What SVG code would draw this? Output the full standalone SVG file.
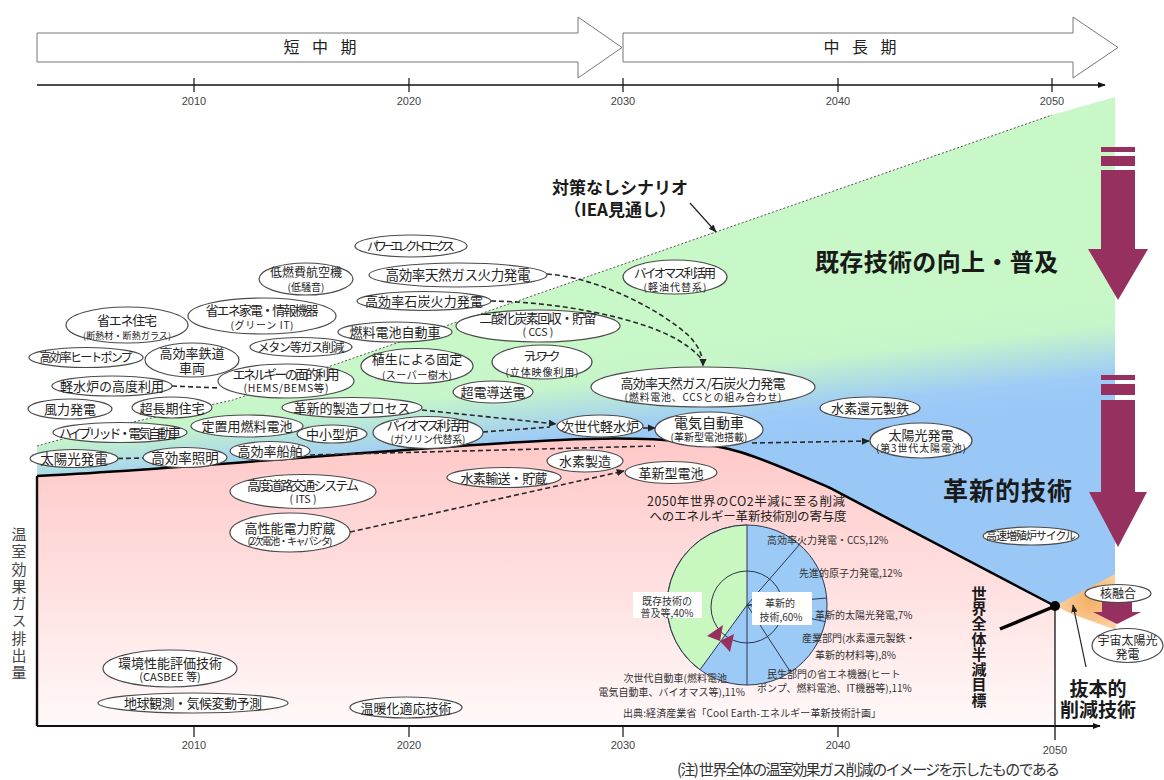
<svg xmlns="http://www.w3.org/2000/svg" width="1164" height="780" viewBox="0 0 1164 780">
<defs>
<style>
.ov{fill:#fff;stroke:#4a4a4a;stroke-width:1.2}
.t{font-family:'Noto Sans CJK JP','Noto Sans',sans-serif;fill:#222;text-anchor:middle}
.m{font-size:13px}
.s{font-size:10px}
.con{fill:none;stroke:#2a2a2a;stroke-width:1.6;stroke-dasharray:5 3}
.yr{font-family:'Liberation Sans',Arial,sans-serif;font-size:11px;fill:#444;text-anchor:middle}
.pl{font-family:'Noto Sans CJK JP','Noto Sans',sans-serif;font-size:10px;fill:#333}
.big{font-family:'Noto Sans CJK JP','Noto Sans',sans-serif;font-weight:bold;fill:#1a1a1a}
.pu{fill:#96305f}
.ar{fill:#fff;stroke:#777;stroke-width:1}
.pln{stroke:#2d3550;stroke-width:1;fill:none}
</style>
<linearGradient id="gb" gradientUnits="userSpaceOnUse" x1="760" y1="330" x2="772" y2="440">
<stop offset="0" stop-color="#c8f7c8"/><stop offset="0.3" stop-color="#c6f5ca"/><stop offset="0.75" stop-color="#9ecbf6"/><stop offset="1" stop-color="#99c8f7"/>
</linearGradient>
<linearGradient id="pk" gradientUnits="userSpaceOnUse" x1="0" y1="440" x2="0" y2="730">
<stop offset="0" stop-color="#ffc8c8"/><stop offset="0.55" stop-color="#ffe2e2"/><stop offset="1" stop-color="#fffafa"/>
</linearGradient>
<radialGradient id="or" gradientUnits="userSpaceOnUse" cx="1090" cy="600" r="40">
<stop offset="0" stop-color="#f5b064"/><stop offset="1" stop-color="#fbd6ae"/>
</radialGradient>
<marker id="ah" viewBox="0 0 10 10" refX="9" refY="5" markerWidth="5" markerHeight="5" orient="auto"><path d="M0,0.5 L10,5 L0,9.5 Z" fill="#222"/></marker>
<marker id="ahs" viewBox="0 0 10 10" refX="9" refY="5" markerWidth="8" markerHeight="8" markerUnits="userSpaceOnUse" orient="auto"><path d="M0,1 L10,5 L0,9 Z" fill="#222"/></marker>
<marker id="ax" viewBox="0 0 10 10" refX="9" refY="5" markerWidth="8" markerHeight="8" markerUnits="userSpaceOnUse" orient="auto"><path d="M0,1 L10,5 L0,9 Z" fill="#111"/></marker>
</defs>
<rect width="1164" height="780" fill="#fff"/>

<g id="regions">
<path d="M37,446 C100,428 180,412 233,400 L1052,115 L1115,97 L1115,577 L1055,606 L830,488 C800,475 770,461 740,452 C700,440 640,436 560,440 C420,446 200,468 37,476 Z" fill="url(#gb)"/>
<path d="M37,476 C200,468 420,446 560,440 C640,436 700,440 740,452 C770,461 800,475 830,488 L1055,606 L1055,726 L37,726 Z" fill="url(#pk)"/>
<path d="M1055,606 L1115,574 L1116,630 L1072,614 Z" fill="url(#or)"/>
<path d="M37,446 C100,428 180,412 233,400 L1052,115" fill="none" stroke="#555" stroke-width="1" stroke-dasharray="2 2"/>
<path d="M37,476 C200,468 420,446 560,440 C640,436 700,440 740,452 C770,461 800,475 830,488 L1055,606" fill="none" stroke="#000" stroke-width="2.5"/>
</g>

<g id="timeline">
<polygon class="ar" points="37,33 578,33 578,17 622,47.5 578,78 578,62 37,62"/>
<polygon class="ar" points="623,33 1073,33 1073,17 1118,47.5 1073,78 1073,62 623,62"/>
<text class="t" x="320" y="53" font-size="16" fill="#333" textLength="73">短 中 期</text>
<text class="t" x="860" y="53" font-size="16" fill="#333" textLength="73">中 長 期</text>
<path d="M37,85 L1105,85" stroke="#111" stroke-width="1.6" marker-end="url(#ax)"/>
<path d="M194,78 V92 M409,78 V92 M623,78 V92 M838,78 V92 M1052,78 V92" stroke="#111" stroke-width="1.2"/>
<text class="yr" x="194" y="105">2010</text>
<text class="yr" x="409" y="105">2020</text>
<text class="yr" x="623" y="105">2030</text>
<text class="yr" x="838" y="105">2040</text>
<text class="yr" x="1052" y="105">2050</text>
</g>

<g id="axes">
<path d="M37,476 V726" stroke="#111" stroke-width="2.4"/>
<path d="M37,726 L1100,726" stroke="#111" stroke-width="2.2" marker-end="url(#ax)"/>
<path d="M194,726 V737 M409,726 V737 M623,726 V737 M838,726 V737" stroke="#111" stroke-width="1.2"/>
<path d="M1055,606 V740" stroke="#111" stroke-width="1.3"/>
<text class="yr" x="194" y="749">2010</text>
<text class="yr" x="409" y="749">2020</text>
<text class="yr" x="623" y="749">2030</text>
<text class="yr" x="838" y="749">2040</text>
<text class="yr" x="1055" y="754">2050</text>
<text x="19" y="527" font-family="'Noto Sans CJK JP','Noto Sans',sans-serif" font-size="15" fill="#444" style="writing-mode:vertical-rl;letter-spacing:2.25px">温室効果ガス排出量</text>
</g>

<g id="reduction-arrows">
<rect class="pu" x="1101" y="147" width="34" height="5"/>
<rect class="pu" x="1101" y="156" width="34" height="10"/>
<polygon class="pu" points="1101,170 1135,170 1135,249 1148,249 1118,300 1088,249 1101,249"/>
<rect class="pu" x="1101" y="375" width="34" height="5"/>
<rect class="pu" x="1101" y="384" width="34" height="11"/>
<polygon class="pu" points="1101,400 1135,400 1135,492 1147,492 1118,547 1089,492 1101,492"/>
<polygon class="pu" points="1102,602 1132,602 1132,612 1141,612 1117,624 1093,612 1102,612"/>
</g>

<g id="pie">
<text class="t" x="746" y="506" font-size="12.5" fill="#4d3b3b" textLength="198">2050年世界のCO2半減に至る削減</text>
<text class="t" x="748" y="521" font-size="12.5" fill="#4d3b3b" textLength="197">へのエネルギー革新技術別の寄与度</text>
<circle cx="747" cy="605" r="80" fill="#9ccaf7" stroke="#2d3550" stroke-width="1"/>
<path d="M747,605 L747,525 A80,80 0 0,0 700,669.7 Z" fill="#c8f7c0" stroke="#2d3550" stroke-width="1"/>
<circle class="pln" cx="747" cy="607" r="36"/>
<path class="pln" d="M747,605 L799.5,544.6 M747,605 L826.7,598 M747,605 L825.2,621.6 M747,605 L790.6,672.1 M747,605 L747,685"/>
<rect x="633" y="592" width="69" height="26" fill="#fff"/>
<rect x="752" y="592" width="60" height="33" fill="#fff"/>
<text class="pl" x="667" y="605" text-anchor="middle">既存技術の</text>
<text class="pl" x="667" y="617" text-anchor="middle">普及等,40%</text>
<text class="pl" x="780" y="607" text-anchor="middle">革新的</text>
<text class="pl" x="781" y="621" text-anchor="middle">技術,60%</text>
<polygon class="pu" points="707,636 723,625 720,641"/>
<polygon class="pu" points="720,641 734,634 730,652"/>
<text class="pl" x="767" y="544">高効率火力発電・CCS,12%</text>
<text class="pl" x="799" y="577">先進的原子力発電,12%</text>
<text class="pl" x="815" y="619">革新的太陽光発電,7%</text>
<text class="pl" x="802" y="642">産業部門(水素還元製鉄・</text>
<text class="pl" x="815" y="659">革新的材料等),8%</text>
<text class="pl" x="767" y="678">民生部門の省エネ機器(ヒート</text>
<text class="pl" x="757" y="692">ポンプ、燃料電池、IT機器等),11%</text>
<text class="pl" x="727" y="682" text-anchor="end">次世代自動車(燃料電池</text>
<text class="pl" x="745" y="696" text-anchor="end">電気自動車、バイオマス等),11%</text>
<text class="pl" x="623" y="717" textLength="258">出典:経済産業省「Cool Earth-エネルギー革新技術計画」</text>
</g>

<g id="connectors">
<path class="con" d="M172,386 L219,388"/>
<path class="con" d="M118,458.5 L143,458"/>
<path class="con" d="M422,410 L556,424" marker-end="url(#ah)"/>
<path class="con" d="M483,432 L550,427"/>
<path class="con" d="M643,428 L655,428" marker-end="url(#ah)"/>
<path class="con" d="M752,443 L869,441" marker-end="url(#ah)"/>
<path class="con" d="M310,455 L655,446"/>
<path class="con" d="M547,274 C600,278 660,310 688,335 C698,345 703,355 703,366" marker-end="url(#ah)"/>
<path class="con" d="M491,301 C560,302 640,318 678,340 C694,350 702,358 703,362"/>
<path class="con" d="M350,532 L624,471" marker-end="url(#ah)"/>
<path d="M690,203 L716,232" stroke="#222" stroke-width="1.2" fill="none" marker-end="url(#ahs)"/>
<path d="M1000,629 L1053,607" stroke="#000" stroke-width="3.5" fill="none"/>
<path d="M1086,667 L1073,605" stroke="#222" stroke-width="1.2" fill="none" marker-end="url(#ahs)"/>
<circle cx="1055" cy="606" r="5" fill="#000"/>
</g>

<g id="n01"><ellipse class="ov" cx="411" cy="246" rx="56" ry="11"/><text class="t" x="411" y="250.5" font-size="12" textLength="88">パワーエレクトロニクス</text></g>
<g id="n02"><ellipse class="ov" cx="306" cy="279" rx="47" ry="16"/><text class="t" x="306" y="276.5" font-size="12">低燃費航空機</text><text class="t" x="306" y="290.5" font-size="10">(低騒音)</text></g>
<g id="n03"><ellipse class="ov" cx="458" cy="275" rx="89" ry="12"/><text class="t" x="458" y="280" font-size="13.5" textLength="145">高効率天然ガス火力発電</text></g>
<g id="n04"><ellipse class="ov" cx="424" cy="301" rx="67" ry="9.5"/><text class="t" x="424" y="306" font-size="13" textLength="118">高効率石炭火力発電</text></g>
<g id="n05"><ellipse class="ov" cx="127" cy="325" rx="61" ry="18"/><text class="t" x="127" y="325" font-size="13" textLength="60">省エネ住宅</text><text class="t" x="127" y="338.5" font-size="9" textLength="88">(断熱材・断熱ガラス)</text></g>
<g id="n06"><ellipse class="ov" cx="262" cy="316" rx="74" ry="18"/><text class="t" x="262" y="315" font-size="13" textLength="113">省エネ家電・情報機器</text><text class="t" x="262" y="329" font-size="10" textLength="63">(グリーン IT)</text></g>
<g id="n07"><ellipse class="ov" cx="395" cy="332" rx="57" ry="10"/><text class="t" x="395" y="337" font-size="13">燃料電池自動車</text></g>
<g id="n08"><ellipse class="ov" cx="538" cy="326" rx="82" ry="16"/><text class="t" x="538" y="323" font-size="13" textLength="117">二酸化炭素回収・貯留</text><text class="t" x="538" y="336" font-size="10.5">( CCS )</text></g>
<g id="n09"><ellipse class="ov" cx="675" cy="277" rx="52" ry="17"/><text class="t" x="675" y="278" font-size="12.5" textLength="82">バイオマス利活用</text><text class="t" x="675" y="291" font-size="10" textLength="63">(軽油代替系)</text></g>
<g id="n10"><ellipse class="ov" cx="86" cy="357.5" rx="57" ry="10"/><text class="t" x="86" y="362" font-size="12" textLength="93">高効率ヒートポンプ</text></g>
<g id="n11"><ellipse class="ov" cx="192" cy="360" rx="47" ry="17"/><text class="t" x="192" y="358" font-size="13">高効率鉄道</text><text class="t" x="192" y="373" font-size="13">車両</text></g>
<g id="n12"><ellipse class="ov" cx="301" cy="347" rx="51" ry="9.5"/><text class="t" x="301" y="351.5" font-size="12" textLength="87">メタン等ガス削減</text></g>
<g id="n13"><ellipse class="ov" cx="417" cy="366" rx="56" ry="17.5"/><text class="t" x="417" y="364" font-size="13">植生による固定</text><text class="t" x="417" y="379" font-size="10" textLength="70">(スーパー樹木)</text></g>
<g id="n14"><ellipse class="ov" cx="542" cy="362" rx="50" ry="17"/><text class="t" x="542" y="361" font-size="12" textLength="37">テレワーク</text><text class="t" x="542" y="376" font-size="10" textLength="73">(立体映像利用)</text></g>
<g id="n15"><ellipse class="ov" cx="112" cy="386" rx="60" ry="10"/><text class="t" x="112" y="391" font-size="13">軽水炉の高度利用</text></g>
<g id="n16"><ellipse class="ov" cx="286" cy="381" rx="68" ry="17"/><text class="t" x="286" y="379" font-size="13" textLength="107">エネルギーの面的利用</text><text class="t" x="286" y="391.5" font-size="10.5" textLength="85">(HEMS/BEMS等)</text></g>
<g id="n17"><ellipse class="ov" cx="493" cy="392" rx="40" ry="11"/><text class="t" x="493" y="397" font-size="13">超電導送電</text></g>
<g id="n18"><ellipse class="ov" cx="703" cy="387" rx="112" ry="20"/><text class="t" x="703" y="388" font-size="13" textLength="165">高効率天然ガス/石炭火力発電</text><text class="t" x="703" y="401" font-size="10" textLength="157">(燃料電池、CCSとの組み合わせ)</text></g>
<g id="n19"><ellipse class="ov" cx="70" cy="409" rx="42" ry="10"/><text class="t" x="70" y="414" font-size="13">風力発電</text></g>
<g id="n20"><ellipse class="ov" cx="172" cy="407.5" rx="40" ry="10.5"/><text class="t" x="172" y="412.5" font-size="13">超長期住宅</text></g>
<g id="n21"><ellipse class="ov" cx="352" cy="407.5" rx="70" ry="10"/><text class="t" x="352" y="412.5" font-size="13" textLength="117">革新的製造プロセス</text></g>
<g id="n22"><ellipse class="ov" cx="870" cy="408" rx="50" ry="11"/><text class="t" x="870" y="413" font-size="13">水素還元製鉄</text></g>
<g id="n23"><ellipse class="ov" cx="120" cy="432.5" rx="67" ry="10"/><text class="t" x="120" y="437.5" font-size="13" textLength="122">ハイブリッド・電気自動車</text></g>
<g id="n24"><ellipse class="ov" cx="247" cy="426" rx="56" ry="11"/><text class="t" x="247" y="431" font-size="13">定置用燃料電池</text></g>
<g id="n25"><ellipse class="ov" cx="332" cy="434" rx="35" ry="9"/><text class="t" x="332" y="439" font-size="13">中小型炉</text></g>
<g id="n26"><ellipse class="ov" cx="428" cy="432.5" rx="55" ry="16"/><text class="t" x="428" y="430" font-size="13" textLength="83">バイオマス利活用</text><text class="t" x="428" y="442.5" font-size="10" textLength="75">(ガソリン代替系)</text></g>
<g id="n27"><ellipse class="ov" cx="600" cy="426" rx="43" ry="11"/><text class="t" x="600" y="431" font-size="13">次世代軽水炉</text></g>
<g id="n28"><ellipse class="ov" cx="709" cy="429.5" rx="54" ry="17.5"/><text class="t" x="709" y="428" font-size="14">電気自動車</text><text class="t" x="709" y="441" font-size="10" textLength="77">(革新型電池搭載)</text></g>
<g id="n29"><ellipse class="ov" cx="921" cy="440.5" rx="51" ry="17.5"/><text class="t" x="921" y="439.5" font-size="13">太陽光発電</text><text class="t" x="921" y="452" font-size="10" textLength="90">(第3世代太陽電池)</text></g>
<g id="n30"><ellipse class="ov" cx="74" cy="458.5" rx="44" ry="9"/><text class="t" x="74" y="463.5" font-size="13.5">太陽光発電</text></g>
<g id="n31"><ellipse class="ov" cx="185" cy="457.5" rx="42" ry="10"/><text class="t" x="185" y="462.5" font-size="13.5">高効率照明</text></g>
<g id="n32"><ellipse class="ov" cx="270" cy="451" rx="40" ry="9.5"/><text class="t" x="270" y="456" font-size="13">高効率船舶</text></g>
<g id="n33"><ellipse class="ov" cx="585" cy="461" rx="38" ry="11"/><text class="t" x="585" y="466" font-size="13">水素製造</text></g>
<g id="n34"><ellipse class="ov" cx="504" cy="477.5" rx="57" ry="10"/><text class="t" x="504" y="482.5" font-size="13" textLength="87">水素輸送・貯蔵</text></g>
<g id="n35"><ellipse class="ov" cx="671" cy="472.5" rx="46" ry="11"/><text class="t" x="671" y="477.5" font-size="13">革新型電池</text></g>
<g id="n36"><ellipse class="ov" cx="303" cy="491.5" rx="73" ry="17"/><text class="t" x="303" y="490" font-size="13" textLength="112">高度道路交通システム</text><text class="t" x="303" y="503" font-size="10.5">( ITS )</text></g>
<g id="n37"><ellipse class="ov" cx="290" cy="532.5" rx="60" ry="19.5"/><text class="t" x="290" y="533" font-size="13">高性能電力貯蔵</text><text class="t" x="290" y="545" font-size="10" textLength="85">(2次電池・キャパシタ)</text></g>
<g id="n38"><ellipse class="ov" cx="1031" cy="536" rx="48" ry="9"/><text class="t" x="1031" y="540" font-size="11" textLength="90">高速増殖炉サイクル</text></g>
<g id="n39"><ellipse class="ov" cx="1118" cy="593.5" rx="33" ry="9"/><text class="t" x="1118" y="598" font-size="12">核融合</text></g>
<g id="n40"><ellipse class="ov" cx="1127.5" cy="645.5" rx="35.5" ry="17"/><text class="t" x="1127.5" y="645" font-size="12">宇宙太陽光</text><text class="t" x="1127.5" y="659" font-size="12">発電</text></g>
<g id="n41"><ellipse class="ov" cx="170" cy="668.5" rx="67" ry="18.5"/><text class="t" x="170" y="668" font-size="13">環境性能評価技術</text><text class="t" x="170" y="681" font-size="11">(CASBEE 等)</text></g>
<g id="n42"><ellipse class="ov" cx="193" cy="703" rx="95" ry="10"/><text class="t" x="193" y="708" font-size="13" textLength="138">地球観測・気候変動予測</text></g>
<g id="n43"><ellipse class="ov" cx="406" cy="707.5" rx="56" ry="10.5"/><text class="t" x="406" y="712.5" font-size="13">温暖化適応技術</text></g>

<g id="labels">
<text class="big" x="815" y="271" font-size="24" textLength="243">既存技術の向上・普及</text>
<text class="big" x="943" y="500" font-size="25" textLength="129">革新的技術</text>
<text class="big" x="620" y="194" font-size="17" text-anchor="middle">対策なしシナリオ</text>
<text class="big" x="620" y="216" font-size="17" text-anchor="middle">（IEA見通し）</text>
<text class="big" x="1098" y="696" font-size="19" text-anchor="middle">抜本的</text>
<text class="big" x="1098" y="717" font-size="19" text-anchor="middle">削減技術</text>
<text class="big" x="979" y="585.5" font-size="15" style="writing-mode:vertical-rl;letter-spacing:0.3px">世界全体半減目標</text>
<text x="677" y="775" font-family="'Noto Sans CJK JP','Noto Sans',sans-serif" font-size="15" fill="#333" textLength="383">(注) 世界全体の温室効果ガス削減のイメージを示したものである</text>
</g>
</svg>
